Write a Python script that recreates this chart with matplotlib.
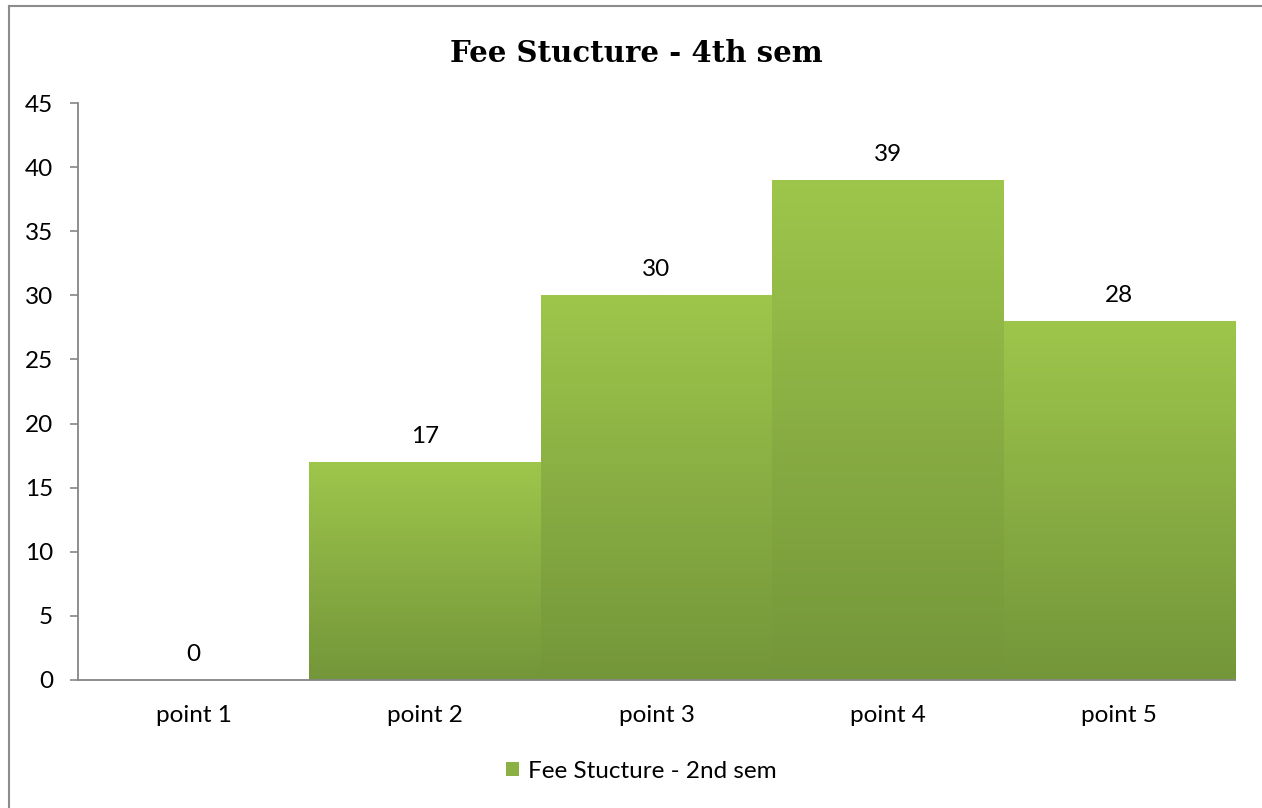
import matplotlib
matplotlib.use("Agg")
import matplotlib.pyplot as plt
import numpy as np
from matplotlib.colors import LinearSegmentedColormap
from matplotlib.patches import Patch
from matplotlib.lines import Line2D

categories = ["point 1", "point 2", "point 3", "point 4", "point 5"]
values = [0, 17, 30, 39, 28]
y_ticks = [0, 5, 10, 15, 20, 25, 30, 35, 40, 45]
title = "Fee Stucture - 4th sem"
series_name = "Fee Stucture - 2nd sem"

W, H = 1262, 808
fig = plt.figure(figsize=(W / 100, H / 100), dpi=100)
fig.patch.set_facecolor("white")

ax = fig.add_axes([78 / W, 1 - 680 / H, (1235 - 78) / W, (680 - 103) / H])

cmap = LinearSegmentedColormap.from_list("g", ["#74963a", "#89ad43", "#9ec64b"])
grad = np.linspace(0, 1, 256).reshape(-1, 1)

FS = 17.5
x = np.arange(len(categories))
bars = ax.bar(x, values, width=1.0, color="none", edgecolor="none", zorder=2)
for b, v in zip(bars, values):
    if v <= 0:
        continue
    x0 = b.get_x()
    im = ax.imshow(grad, cmap=cmap, origin="lower", aspect="auto",
                   extent=[x0, x0 + b.get_width(), 0, v], zorder=2)
    im.set_clip_path(b)

for xi, v in zip(x, values):
    ax.annotate(str(v), (xi, v), xytext=(0, 18.5), textcoords="offset points",
                ha="center", va="center", fontsize=FS, family="Lato", color="black")

ax.set_xlim(-0.5, len(categories) - 0.5)
ax.set_ylim(0, 45)
ax.set_yticks(y_ticks)
ax.set_yticklabels([str(t) for t in y_ticks], family="Lato", fontsize=FS)
ax.set_xticks(x)
ax.set_xticklabels(categories, family="Lato", fontsize=FS)
ax.tick_params(axis="x", length=0, pad=18)
ax.tick_params(axis="y", length=6, color="#868686", pad=12, width=1.2)
for s in ["top", "right"]:
    ax.spines[s].set_visible(False)
for s in ["left", "bottom"]:
    ax.spines[s].set_color("#868686")
    ax.spines[s].set_linewidth(1.3)
ax.set_facecolor("none")

fig.text(636 / W, 1 - 54 / H, title, ha="center", va="center",
         fontsize=21, fontweight="bold", family="DejaVu Serif")

handle = Patch(facecolor="#8bb043", edgecolor="none")
fig.legend([handle], [series_name], loc="center", bbox_to_anchor=(641 / W, 1 - 771 / H),
           frameon=False, prop={"family": "Lato", "size": FS},
           handlelength=0.55, handleheight=0.55, handletextpad=0.35)

# outer border
fig.add_artist(Line2D([8.5 / W, 8.5 / W], [0, 1 - 5.5 / H], color="#8c8c8c", lw=1.5,
                      transform=fig.transFigure))
fig.add_artist(Line2D([8.5 / W, 1], [1 - 5.5 / H, 1 - 5.5 / H], color="#8c8c8c", lw=1.5,
                      transform=fig.transFigure))

fig.savefig("out.png", dpi=100)
